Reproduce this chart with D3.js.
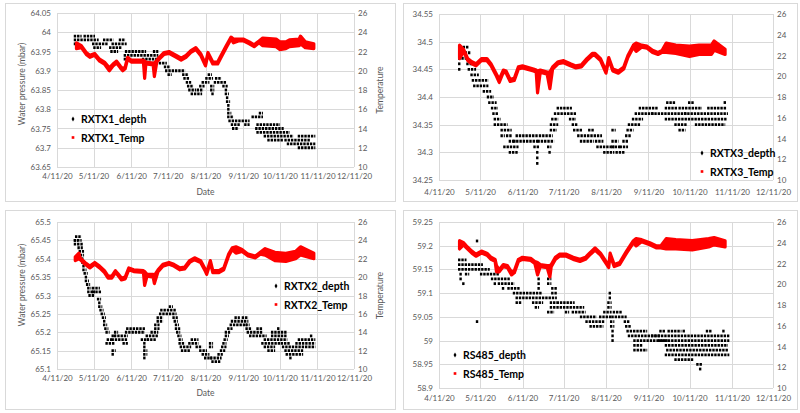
<!DOCTYPE html>
<html>
<head>
<meta charset="utf-8">
<script src="https://cdn.jsdelivr.net/npm/d3@7"></script>
<style>
    body { margin: 0; background: #fff; }
    svg { display: block; font-family: Lato, "Open Sans", sans-serif; }
</style>
</head>
<body>
<svg id="chart" width="800" height="413"></svg>
<script>
var dateTicks = [ "4/11/20", "5/11/20", "6/11/20", "7/11/20", "8/11/20", "9/11/20", "10/11/20", "11/11/20", "12/11/20" ];
var tempTicks = [ 10, 12, 14, 16, 18, 20, 22, 24, 26 ];
var rxtx1Ticks = [ 63.65, 63.7, 63.75, 63.8, 63.85, 63.9, 63.95, 64, 64.05 ];
var rxtx3Ticks = [ 34.25, 34.3, 34.35, 34.4, 34.45, 34.5, 34.55 ];
var rxtx2Ticks = [ 65.1, 65.15, 65.2, 65.25, 65.3, 65.35, 65.4, 65.45, 65.5 ];
var rs485Ticks = [ 58.9, 58.95, 59, 59.05, 59.1, 59.15, 59.2, 59.25 ];

// depth: runs of equal readings [ from, to, mbar ]
var rxtx1Depth = [
    ["4/26","4/30",63.99],["5/4","5/11",63.99],
    ["4/26","5/14",63.98],["5/20","5/26",63.98],["6/2","6/5",63.98],
    ["4/26","4/27",63.97],["5/11","5/22",63.97],["5/27","6/6",63.97],
    ["5/12","5/16",63.96],["5/25","6/2",63.96],
    ["5/26","5/30",63.95],["6/7","6/22",63.95],["6/30","7/2",63.95],
    ["6/6","7/2",63.94],
    ["6/6","6/7",63.93],["6/21","7/3",63.93],
    ["6/24","7/9",63.92],
    ["7/9","7/12",63.91],
    ["7/10","7/24",63.90],
    ["7/12","7/13",63.89],["7/24","7/27",63.89],
    ["7/25","7/28",63.88],
    ["7/27","7/29",63.87],
    ["7/28","7/31",63.86],
    ["7/29","8/2",63.85],
    ["7/31","8/7",63.84],
    ["8/5","8/8",63.85],
    ["8/7","8/9",63.86],
    ["8/9","8/13",63.87],
    ["8/12","8/16",63.88],
    ["8/14","8/15",63.89],
    ["8/16","8/17",63.86],["8/16","8/17",63.85],["8/17","8/17",63.84],
    ["8/19","8/27",63.87],["8/20","8/23",63.88],
    ["8/26","8/28",63.86],
    ["8/28","8/28",63.85],["8/28","8/29",63.84],["8/29","8/29",63.83],["8/29","8/30",63.82],
    ["8/30","8/30",63.81],["8/30","8/30",63.80],["8/30","8/31",63.79],
    ["8/30","9/2",63.78],["9/19","9/26",63.78],
    ["8/31","9/15",63.77],
    ["9/2","9/7",63.76],["9/13","9/15",63.76],
    ["9/3","9/6",63.75],
    ["9/25","9/26",63.79],
    ["9/23","10/10",63.76],
    ["9/22","10/13",63.75],
    ["9/23","10/18",63.74],
    ["9/29","10/21",63.73],
    ["10/2","10/13",63.72],["10/16","11/4",63.72],
    ["10/18","11/8",63.71],
    ["10/27","11/8",63.70],
    ["10/27","11/8",63.73]
];
// temperature: [ date, low, high ]
var rxtx1Temp = [
    ["4/27",22.3,22.9],["5/1",22.4,22.6],["5/5",21.7,21.9],["5/8",21.4,21.6],["5/12",21.6,21.8],
    ["5/16",21.0,21.2],["5/20",20.7,20.9],["5/24",20.0,20.3],["5/27",20.5,20.7],["5/30",20.8,21.0],
    ["6/2",20.3,20.5],["6/4",20.0,20.2],["6/6",20.2,20.4],["6/8",21.2,21.4],["6/11",20.9,21.1],
    ["6/18",20.9,21.1],["6/21",20.9,21.1],["6/22",19.2,21.0],["6/23",20.7,20.9],["6/29",20.6,20.8],
    ["6/30",19.4,20.8],["7/2",20.9,21.1],["7/4",21.2,21.4],["7/8",21.7,21.9],["7/12",21.8,22.0],
    ["7/18",21.4,21.6],["7/22",21.1,21.3],["7/26",21.4,21.6],["7/30",21.9,22.1],["8/3",22.2,22.4],
    ["8/7",21.6,21.8],["8/11",20.5,20.7],["8/13",21.7,21.9],["8/17",20.7,20.9],["8/21",20.7,20.9],
    ["8/23",21.2,21.4],["8/28",22.4,22.6],["9/1",23.3,23.5],["9/3",22.9,23.3],["9/7",23.1,23.3],
    ["9/11",23.1,23.3],["9/16",22.8,23.0],["9/20",22.5,22.7],["9/24",22.9,23.1],["9/27",22.6,23.4],
    ["10/8",22.5,23.3],["10/11",22.2,23.0],["10/16",22.3,23.0],["10/19",22.5,23.2],["10/27",22.6,23.3],
    ["10/28",22.8,23.6],["11/1",22.4,23.0],["11/8",22.3,22.8]
];

var rxtx3Depth = [
    ["4/26","4/26",34.45],["4/26","4/26",34.46],["4/26","4/30",34.47],
    ["4/26","5/3",34.48],["4/27","5/2",34.49],
    ["5/2","5/5",34.46],["5/3","5/7",34.45],["5/5","5/9",34.44],
    ["5/6","5/16",34.43],["5/7","5/16",34.42],["5/14","5/18",34.41],
    ["5/17","5/20",34.40],["5/18","5/22",34.39],["5/20","5/23",34.38],
    ["5/21","5/23",34.37],["5/22","5/25",34.36],["5/22","5/30",34.35],
    ["5/27","6/2",34.34],["5/27","5/28",34.33],["5/31","6/2",34.33],
    ["6/2","6/5",34.32],["5/29","6/7",34.31],["6/2","6/7",34.30],
    ["6/7","6/21",34.33],["6/5","6/22",34.32],["6/20","6/22",34.31],
    ["6/22","6/22",34.30],["6/22","6/22",34.29],["6/22","6/22",34.28],
    ["6/24","7/2",34.33],["6/23","7/3",34.32],["6/30","7/1",34.31],["7/1","7/1",34.30],
    ["7/2","7/5",34.34],["7/2","7/6",34.35],["7/3","7/6",34.36],
    ["7/5","7/19",34.37],["7/7","7/16",34.38],["7/16","7/19",34.36],
    ["7/18","7/20",34.35],["7/19","7/24",34.34],["7/22","8/7",34.33],
    ["7/24","8/1",34.32],["7/30","8/1",34.34],["8/4","8/8",34.32],
    ["8/5","8/16",34.31],["8/10","8/16",34.30],
    ["8/16","8/17",34.34],["8/16","8/19",34.32],["8/16","8/21",34.31],
    ["8/19","8/24",34.30],["8/22","8/26",34.31],["8/24","8/26",34.32],
    ["8/26","8/28",34.33],["8/27","8/30",34.34],["8/28","9/4",34.35],
    ["8/31","9/6",34.36],["9/2","9/14",34.37],["9/5","9/17",34.38],
    ["9/14","10/8",34.37],["9/24","11/6",34.36],["9/24","10/1",34.38],
    ["9/25","9/30",34.39],["10/1","10/8",34.35],["10/16","11/5",34.35],
    ["10/4","10/7",34.34],["10/11","10/13",34.39],
    ["10/4","10/19",34.38],["10/25","11/6",34.38],
    ["10/8","11/7",34.37],["11/6","11/6",34.39]
];
var rxtx3Temp = [
    ["4/26",21.7,23.0],["4/29",22.4,22.6],["5/2",21.5,21.7],["5/5",21.2,21.4],["5/8",21.0,21.2],
    ["5/12",21.5,21.7],["5/16",21.5,21.7],["5/19",21.0,21.2],["5/23",20.0,20.2],["5/25",19.4,19.7],
    ["5/28",20.4,20.6],["5/30",20.3,20.5],["6/2",19.5,19.7],["6/5",19.6,19.8],["6/8",20.7,20.9],
    ["6/11",20.8,21.0],["6/19",20.5,20.7],["6/21",20.4,20.6],["6/22",18.4,20.5],["6/24",20.4,20.6],
    ["6/29",20.2,20.4],["7/1",18.8,20.4],["7/3",20.7,20.9],["7/7",21.2,21.4],["7/11",21.3,21.5],
    ["7/16",21.0,21.2],["7/20",20.8,21.0],["7/24",20.9,21.1],["7/28",21.5,21.7],["8/1",22.0,22.2],
    ["8/3",22.0,22.2],["8/7",21.5,21.7],["8/11",20.3,20.5],["8/13",21.6,21.8],["8/16",20.5,20.7],
    ["8/20",20.3,20.5],["8/24",20.7,20.9],["8/27",21.8,22.0],["8/31",22.8,23.0],["9/2",22.4,23.2],
    ["9/6",22.8,23.0],["9/10",22.7,22.9],["9/14",22.3,22.5],["9/18",22.1,22.3],["9/21",22.3,22.5],
    ["9/24",22.3,23.2],["10/1",22.2,23.0],["10/11",21.9,22.9],["10/18",22.1,23.0],["10/27",22.1,23.0],
    ["10/29",22.5,23.4],["11/6",22.1,22.6]
];

var rxtx2Depth = [
    ["4/26","4/27",65.45],["4/27","4/30",65.46],["4/26","4/30",65.45],["4/26","5/1",65.44],
    ["4/29","5/1",65.43],["4/30","5/2",65.42],
    ["5/1","5/2",65.41],["5/2","5/2",65.40],["5/2","5/3",65.39],["5/3","5/3",65.38],["5/3","5/4",65.37],
    ["5/4","5/5",65.36],["5/5","5/5",65.35],["5/5","5/6",65.34],["5/6","5/7",65.33],["5/7","5/8",65.32],
    ["5/7","5/11",65.31],["5/8","5/11",65.30],["5/11","5/15",65.32],["5/11","5/16",65.31],
    ["5/15","5/16",65.29],["5/16","5/16",65.28],["5/16","5/17",65.27],["5/17","5/18",65.26],
    ["5/18","5/19",65.25],["5/19","5/20",65.24],["5/20","5/20",65.23],["5/20","5/21",65.22],
    ["5/21","5/22",65.21],["5/22","5/23",65.20],["5/22","5/27",65.17],["5/23","5/25",65.18],
    ["5/27","5/28",65.15],["5/27","5/27",65.14],["5/27","5/28",65.19],
    ["5/27","6/7",65.18],["5/29","6/7",65.19],["5/29","5/30",65.20],["6/5","6/7",65.17],
    ["6/8","6/21",65.21],["6/7","6/21",65.20],["6/20","6/24",65.18],
    ["6/22","6/22",65.17],["6/22","6/22",65.16],["6/22","6/23",65.15],["6/22","6/23",65.14],["6/22","6/22",65.13],
    ["6/24","7/2",65.19],["6/25","6/30",65.18],["6/28","7/2",65.20],
    ["7/1","7/3",65.21],["7/1","7/3",65.22],["7/3","7/6",65.23],["7/3","7/6",65.24],
    ["7/6","7/17",65.26],["7/5","7/17",65.25],["7/13","7/14",65.27],
    ["7/16","7/18",65.24],["7/17","7/18",65.23],["7/18","7/19",65.22],["7/18","7/20",65.21],
    ["7/19","7/20",65.20],["7/20","7/21",65.19],["7/21","7/22",65.18],["7/21","7/24",65.17],
    ["7/22","7/29",65.16],["7/23","7/28",65.15],["7/29","8/4",65.17],["7/31","8/4",65.18],
    ["8/4","8/7",65.16],["8/7","8/11",65.15],["8/9","8/13",65.14],["8/11","8/15",65.13],
    ["8/15","8/16",65.16],["8/15","8/16",65.17],["8/17","8/22",65.12],["8/16","8/23",65.13],
    ["8/22","8/24",65.14],["8/24","8/26",65.15],["8/25","8/27",65.16],["8/26","8/27",65.17],
    ["8/27","8/28",65.18],["8/28","8/29",65.19],["8/28","8/30",65.20],["8/30","9/1",65.21],
    ["9/1","9/13",65.22],["9/2","9/14",65.23],["9/5","9/7",65.24],["9/11","9/14",65.24],
    ["9/14","9/15",65.22],["9/14","9/17",65.21],["9/15","9/26",65.20],["9/17","9/29",65.19],
    ["9/23","9/26",65.21],["9/29","10/16",65.18],["9/27","10/10",65.17],["9/29","10/6",65.16],
    ["10/2","10/6",65.15],["10/5","10/16",65.19],["10/5","10/16",65.20],["10/10","10/10",65.21],
    ["10/13","10/18",65.17],["10/14","11/8",65.16],["10/16","10/29",65.15],["10/17","10/29",65.14],
    ["10/20","10/20",65.13],["10/25","11/8",65.17],["10/27","11/8",65.18],["11/6","11/6",65.19]
];
var rxtx2Temp = [
    ["4/26",21.8,22.2],["4/29",22.0,22.6],["4/30",21.9,22.1],["5/4",21.4,21.6],["5/8",21.0,21.2],
    ["5/12",21.4,21.6],["5/16",21.0,21.2],["5/20",20.5,20.7],["5/23",19.9,20.1],["5/26",19.9,20.1],
    ["5/29",20.5,20.7],["5/31",20.2,20.4],["6/3",19.7,19.9],["6/6",19.8,20.0],["6/9",20.8,21.0],
    ["6/13",20.6,20.8],["6/21",20.5,20.7],["6/22",19.1,20.6],["6/24",20.1,20.3],["6/29",20.0,20.3],
    ["6/30",19.3,20.2],["7/3",20.6,20.8],["7/7",21.2,21.4],["7/12",21.4,21.6],["7/16",21.2,21.4],
    ["7/21",20.8,21.0],["7/25",20.9,21.1],["7/29",21.6,21.8],["8/2",21.9,22.1],["8/7",21.6,21.8],
    ["8/11",20.6,20.8],["8/12",20.3,20.5],["8/15",21.6,21.8],["8/17",20.5,20.7],["8/22",20.5,20.7],
    ["8/26",20.8,21.0],["8/30",22.3,22.5],["9/2",23.0,23.2],["9/5",22.6,23.3],["9/10",22.8,23.0],
    ["9/15",22.3,22.5],["9/21",22.1,22.3],["9/25",22.5,22.7],["9/29",22.4,23.1],["10/7",21.8,22.7],
    ["10/16",21.7,22.6],["10/24",22.0,22.8],["10/28",22.4,23.3],["11/8",22.0,22.6]
];

var rs485Depth = [
    ["4/26","4/30",59.17],["4/26","5/12",59.16],["4/26","5/17",59.15],
    ["4/27","4/27",59.14],["5/1","5/2",59.14],["4/27","4/27",59.13],["4/29","4/29",59.12],
    ["5/9","5/9",59.21],["5/9","5/9",59.04],
    ["5/12","5/24",59.14],["5/20","6/1",59.13],["5/22","5/22",59.12],["5/25","6/4",59.12],
    ["5/28","5/28",59.11],["6/1","6/8",59.11],["6/5","6/24",59.10],["6/7","7/5",59.09],
    ["6/7","6/9",59.08],["6/19","6/25",59.08],["7/2","7/5",59.08],["6/21","6/22",59.07],
    ["6/23","6/23",59.13],["6/23","6/23",59.12],["6/23","6/23",59.11],
    ["6/30","7/1",59.13],["6/30","7/1",59.12],["6/30","7/3",59.06],
    ["7/3","7/5",59.11],["7/3","7/5",59.10],["7/2","7/25",59.07],["7/7","7/18",59.08],
    ["7/13","7/14",59.06],["7/18","7/26",59.06],["7/24","8/3",59.05],["7/28","8/9",59.04],
    ["7/31","8/8",59.03],["8/7","8/14",59.05],["8/10","8/14",59.06],
    ["8/13","8/14",59.07],["8/13","8/14",59.08],["8/14","8/14",59.09],["8/14","8/14",59.10],
    ["8/15","8/16",59.04],["8/15","8/16",59.03],["8/16","8/16",59.02],["8/16","8/16",59.01],["8/16","8/16",59.00],
    ["8/17","8/22",59.06],["8/16","8/25",59.05],["8/25","8/27",59.04],["8/26","8/28",59.03],
    ["8/27","9/9",59.02],["8/28","9/19",59.01],["9/1","9/24",59.00],
    ["9/1","9/6",58.99],["9/1","9/9",58.98],
    ["9/20","9/22",59.02],["9/26","10/4",59.02],["10/7","10/7",59.02],
    ["9/14","11/8",59.01],["9/19","11/8",59.00],["9/24","11/7",58.99],["9/25","11/7",58.98],
    ["9/24","11/8",58.97],["10/1","10/13",58.96],["10/17","10/19",58.95],["10/19","10/19",58.94],
    ["10/24","10/26",59.02],["11/5","11/5",59.02]
];
var rs485Temp = [
    ["4/26",23.4,24.2],["4/29",23.8,24.0],["5/1",23.5,23.7],["5/5",23.0,23.2],["5/8",22.7,22.9],
    ["5/12",23.0,23.2],["5/16",22.8,23.0],["5/19",22.4,22.6],["5/22",22.2,22.4],["5/23",21.2,21.8],
    ["5/25",21.2,21.4],["5/28",21.7,21.9],["5/31",21.6,21.8],["6/3",20.9,21.2],["6/5",21.1,21.3],
    ["6/8",22.2,22.4],["6/11",22.4,22.6],["6/17",22.3,22.5],["6/20",22.0,22.2],["6/22",20.9,22.1],
    ["6/24",21.7,21.9],["6/29",21.6,21.8],["7/1",20.7,21.8],["7/2",21.7,21.9],["7/5",22.4,22.6],
    ["7/8",22.7,22.9],["7/13",22.7,22.9],["7/18",22.4,22.6],["7/23",22.2,22.4],["7/27",22.4,22.6],
    ["7/30",22.8,23.0],["8/3",23.3,23.5],["8/7",22.8,23.0],["8/10",22.2,22.4],["8/13",21.6,21.8],
    ["8/14",22.8,23.0],["8/17",21.7,21.9],["8/21",21.9,22.1],["8/26",23.0,23.2],["8/31",24.0,24.2],
    ["9/2",23.7,24.4],["9/6",24.1,24.3],["9/12",23.8,24.0],["9/17",23.5,23.7],["9/20",23.5,23.7],
    ["9/24",23.4,24.4],["10/1",23.4,24.3],["10/13",23.3,24.2],["10/25",23.6,24.4],["10/29",23.8,24.5],
    ["11/6",23.6,24.2]
];

(function () {
    var svg = d3.select( "#chart" );
    var parseTick = d3.timeParse( "%m/%d/%y" );
    var fmtTick = d3.timeFormat( "%-m/%-d/%y" );
    var red = "#ff0000";
    var grey = "#595959";
    var grid = "#d9d9d9";

    function day( s ) { return parseTick( s + "/20" ) }
    function num( v ) { return String( +v.toFixed( 2 ) ) }

    var panels = [
        { name: "RXTX1", depth: rxtx1Depth, temp: rxtx1Temp, ticks: rxtx1Ticks,
          box: [ 5, 3, 395, 201 ], plot: [ 57, 13, 354, 167 ], xdy: 10, titles: true, ytY: 84, dateY: 192,
          legend: [ 73, 119 ] },
        { name: "RXTX3", depth: rxtx3Depth, temp: rxtx3Temp, ticks: rxtx3Ticks,
          box: [ 403, 3, 797, 201 ], plot: [ 439, 14, 773, 180 ], xdy: 13, titles: false,
          legend: [ 702, 153 ] },
        { name: "RXTX2", depth: rxtx2Depth, temp: rxtx2Temp, ticks: rxtx2Ticks,
          box: [ 5, 210, 395, 409 ], plot: [ 57, 222, 354, 369 ], xdy: 10, titles: true, ytY: 285, dateY: 393,
          legend: [ 276, 286 ] },
        { name: "RS485", depth: rs485Depth, temp: rs485Temp, ticks: rs485Ticks,
          box: [ 403, 210, 797, 409 ], plot: [ 439, 222, 773, 388 ], xdy: 11, titles: false,
          legend: [ 455, 355 ] }
    ];

    panels.forEach( function ( p ) {
        var l = p.plot[ 0 ], t = p.plot[ 1 ], r = p.plot[ 2 ], b = p.plot[ 3 ];
        var xTicks = dateTicks.map( parseTick );
        var x = d3.scaleTime().domain( d3.extent( xTicks ) ).range( [ l, r ] );
        var yL = d3.scaleLinear().domain( d3.extent( p.ticks ) ).range( [ b, t ] );
        var yR = d3.scaleLinear().domain( d3.extent( tempTicks ) ).range( [ b, t ] );

        var g = svg.append( "g" );

        g.append( "rect" )
            .attr( "x", p.box[ 0 ] + 0.5 ).attr( "y", p.box[ 1 ] + 0.5 )
            .attr( "width", p.box[ 2 ] - p.box[ 0 ] ).attr( "height", p.box[ 3 ] - p.box[ 1 ] )
            .attr( "fill", "#fff" ).attr( "stroke", grid );

        // gridlines
        g.append( "g" ).selectAll( "line" ).data( p.ticks ).join( "line" )
            .attr( "x1", l ).attr( "x2", r )
            .attr( "y1", function ( d ) { return Math.round( yL( d ) ) + 0.5 } )
            .attr( "y2", function ( d ) { return Math.round( yL( d ) ) + 0.5 } )
            .attr( "stroke", grid );
        g.append( "g" ).selectAll( "line" ).data( xTicks ).join( "line" )
            .attr( "x1", function ( d ) { return Math.round( x( d ) ) + 0.5 } )
            .attr( "x2", function ( d ) { return Math.round( x( d ) ) + 0.5 } )
            .attr( "y1", t ).attr( "y2", b )
            .attr( "stroke", grid );

        // axes, labels only
        var axes = [
            g.append( "g" ).attr( "transform", "translate(0," + ( b + p.xdy - 4 ) + ")" )
                .call( d3.axisBottom( x ).tickValues( xTicks ).tickFormat( fmtTick ).tickSize( 0 ).tickPadding( 0 ) ),
            g.append( "g" ).attr( "transform", "translate(" + l + ",0)" )
                .call( d3.axisLeft( yL ).tickValues( p.ticks ).tickFormat( num ).tickSize( 0 ).tickPadding( 6 ) ),
            g.append( "g" ).attr( "transform", "translate(" + r + ",0)" )
                .call( d3.axisRight( yR ).tickValues( tempTicks ).tickSize( 0 ).tickPadding( 4 ) )
        ];
        axes.forEach( function ( a ) {
            a.select( ".domain" ).remove();
            a.selectAll( "text" ).attr( "fill", grey ).style( "font-size", "8px" ).style( "font-family", "Lato, sans-serif" );
        });

        if ( p.titles ) {
            g.append( "text" ).text( "Date" )
                .attr( "x", ( l + r ) / 2 ).attr( "y", p.dateY + 3 )
                .attr( "text-anchor", "middle" ).attr( "fill", grey ).style( "font-size", "8.5px" );
            g.append( "text" ).text( "Water pressure (mbar)" )
                .attr( "transform", "translate(25," + p.ytY + ") rotate(-90)" )
                .attr( "text-anchor", "middle" ).attr( "fill", grey ).style( "font-size", "8.5px" );
            g.append( "text" ).text( "Temperature" )
                .attr( "transform", "translate(383," + ( t + b ) / 2 + ") rotate(-90)" )
                .attr( "text-anchor", "middle" ).attr( "fill", grey ).style( "font-size", "8.5px" );
        }

        // depth runs
        g.append( "g" ).selectAll( "line" ).data( p.depth ).join( "line" )
            .attr( "x1", function ( d ) { return x( day( d[ 0 ] ) ) - 1.5 } )
            .attr( "x2", function ( d ) { return x( day( d[ 1 ] ) ) + 1.5 } )
            .attr( "y1", function ( d ) { return yL( d[ 2 ] ) } )
            .attr( "y2", function ( d ) { return yL( d[ 2 ] ) } )
            .attr( "stroke", "#000" )
            .attr( "stroke-width", 2.8 )
            .attr( "stroke-dasharray", "2.4,0.9" );

        // temperature band
        var band = d3.area()
            .x( function ( d ) { return x( day( d[ 0 ] ) ) } )
            .y0( function ( d ) { return yR( d[ 1 ] ) } )
            .y1( function ( d ) { return yR( d[ 2 ] ) } );
        g.append( "path" )
            .attr( "d", band( p.temp ) )
            .attr( "fill", red ).attr( "stroke", red )
            .attr( "stroke-width", 3.2 ).attr( "stroke-linejoin", "round" );

        // legend
        var lx = p.legend[ 0 ], ly = p.legend[ 1 ];
        var leg = [
            { label: p.name + "_depth", sym: d3.symbolDiamond, color: "#000", y: ly },
            { label: p.name + "_Temp", sym: d3.symbolSquare, color: red, y: ly + 18.5 }
        ];
        var items = g.append( "g" ).selectAll( "g" ).data( leg ).join( "g" )
            .attr( "transform", function ( d ) { return "translate(" + lx + "," + d.y + ")" } );
        items.append( "path" )
            .attr( "d", function ( d ) { return d3.symbol( d.sym, 7 )() } )
            .attr( "fill", function ( d ) { return d.color } );
        items.append( "text" )
            .attr( "x", 8 ).attr( "y", 4 )
            .text( function ( d ) { return d.label } )
            .attr( "fill", "#000" )
            .style( "font-size", "10.5px" ).style( "font-weight", "bold" );
    });
})();
</script>
</body>
</html>
